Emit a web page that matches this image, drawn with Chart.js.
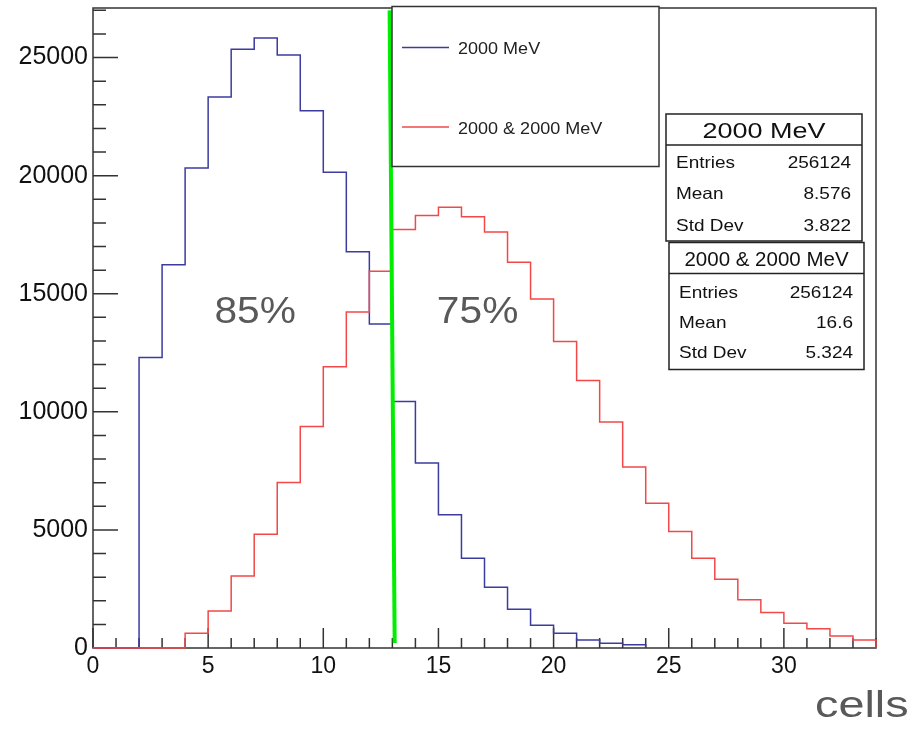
<!DOCTYPE html>
<html>
<head>
<meta charset="utf-8">
<script src="https://cdn.jsdelivr.net/npm/chart.js@4.4.1/dist/chart.umd.min.js"></script>
<style>
  html, body { margin: 0; padding: 0; background: #fff; }
  #wrap { width: 922px; height: 730px; }
</style>
</head>
<body>
<div id="wrap"><canvas id="histo" width="922" height="730"></canvas></div>
<script>
// series names
const seriesNames = ['2000 MeV', '2000 & 2000 MeV'];

// bin contents, bin width 1 starting at 0
const blueCounts = [0, 0, 12300, 16230, 20320, 23330, 25350, 25830, 25110, 22750,
    20150, 16780, 13720, 10440, 7830, 5640, 3800, 2570, 1640, 960,
    620, 340, 200, 140];
const redCounts = [0, 0, 0, 0, 620, 1570, 3050, 4820, 7010, 9380,
    11910, 14230, 15950, 17720, 18310, 18660, 18260, 17620, 16330, 14780,
    12980, 11330, 9570, 7660, 6130, 4930, 3800, 2910, 2040, 1500,
    1050, 820, 510, 340];

// green cut line (x in cells, y in counts)
const cutX = [12.88, 13.10];
const cutY = [27000, 210];

// stat boxes
const statNames = ['Entries', 'Mean', 'Std Dev'];
const blueStats = ['256124', '8.576', '3.822'];
const redStats = ['256124', '16.6', '5.324'];

// percentage labels: text, x, y
const pctText = ['85%', '75%'];
const pctX = [7.04, 16.70];
const pctY = [14330, 14330];

// axes
const xTicks = [0, 5, 10, 15, 20, 25, 30];
const yTicks = [0, 5000, 10000, 15000, 20000, 25000];
const xMax = 34;
const yMax = 27100;

const blueColor = '#3b3ba0';
const redColor = '#f24848';
const font = '"Liberation Sans", Arial, sans-serif';

// stepped points: left edge of each bin, closed back to zero at the end
function toSteps(counts) {
    const pts = counts.map((v, i) => ({ x: i, y: v }));
    pts.push({ x: counts.length, y: 0 });
    return pts;
}

// text with a horizontal stretch, y is the middle of the caps
function drawText(ctx, text, x, y, size, sx, align, color) {
    ctx.save();
    ctx.translate(x, y + size * 0.358);
    ctx.scale(sx, 1);
    ctx.font = size + 'px ' + font;
    ctx.textAlign = align;
    ctx.textBaseline = 'alphabetic';
    ctx.fillStyle = color;
    ctx.fillText(text, 0, 0);
    ctx.restore();
}

function statBox(ctx, box, title, values) {
    ctx.save();
    ctx.fillStyle = '#fff';
    ctx.fillRect(box.x, box.y, box.w, box.h);
    ctx.strokeStyle = '#222';
    ctx.lineWidth = 1.5;
    ctx.strokeRect(box.x, box.y, box.w, box.h);
    ctx.beginPath();
    ctx.moveTo(box.x, box.div);
    ctx.lineTo(box.x + box.w, box.div);
    ctx.stroke();
    ctx.restore();
    drawText(ctx, title, box.x + box.w / 2, box.titleY, box.titleSize, box.titleSx, 'center', '#111');
    statNames.forEach((name, i) => {
        drawText(ctx, name, box.x + 10, box.rows[i], 16.5, 1.15, 'left', '#111');
        drawText(ctx, values[i], box.x + box.w - 11, box.rows[i], 16.5, 1.15, 'right', '#111');
    });
}

// frame and inward ticks like ROOT
const framePlugin = {
    id: 'frame',
    beforeDatasetsDraw(chart) {
        const { ctx, chartArea: a, scales } = chart;
        ctx.save();
        ctx.strokeStyle = '#333';
        ctx.lineWidth = 1.5;
        ctx.strokeRect(a.left, a.top, a.right - a.left, a.bottom - a.top);
        ctx.beginPath();
        for (let v = 0; v <= yMax; v += 1000) {
            const py = scales.y.getPixelForValue(v);
            ctx.moveTo(a.left, py);
            ctx.lineTo(a.left + (v % 5000 === 0 ? 25 : 13), py);
        }
        for (let v = 0; v <= xMax; v += 1) {
            const px = scales.x.getPixelForValue(v);
            ctx.moveTo(px, a.bottom);
            ctx.lineTo(px, a.bottom - (v % 5 === 0 ? 20 : 10));
        }
        ctx.stroke();
        ctx.restore();
    },
    afterDraw(chart) {
        const { ctx, scales } = chart;

        // percentage labels
        pctText.forEach((t, i) => {
            drawText(ctx, t, scales.x.getPixelForValue(pctX[i]), scales.y.getPixelForValue(pctY[i]),
                37, 1.1, 'center', '#595959');
        });

        // legend box
        ctx.save();
        ctx.fillStyle = '#fff';
        ctx.fillRect(392, 6.5, 267, 160);
        ctx.strokeStyle = '#333';
        ctx.lineWidth = 1.5;
        ctx.strokeRect(392, 6.5, 267, 160);
        [blueColor, redColor].forEach((c, i) => {
            const ly = i === 0 ? 47.5 : 127;
            ctx.strokeStyle = c;
            ctx.lineWidth = 1.5;
            ctx.beginPath();
            ctx.moveTo(402, ly);
            ctx.lineTo(449, ly);
            ctx.stroke();
        });
        ctx.restore();
        drawText(ctx, seriesNames[0], 458, 48, 17, 1.06, 'left', '#222');
        drawText(ctx, seriesNames[1], 458, 127.5, 17, 1.06, 'left', '#222');

        // stat boxes
        statBox(ctx, { x: 666, y: 114, w: 196, h: 127, div: 145, titleY: 130, titleSize: 22.5, titleSx: 1.2,
            rows: [162.5, 193.5, 225] }, seriesNames[0], blueStats);
        statBox(ctx, { x: 669, y: 242.5, w: 195, h: 127, div: 273.5, titleY: 259, titleSize: 20.5, titleSx: 1.0,
            rows: [291.7, 322.5, 352.5] }, seriesNames[1], redStats);

        // axis title
        drawText(ctx, 'cells', 815, 704, 36, 1.3, 'left', '#595959');
    }
};

new Chart(document.getElementById('histo'), {
    type: 'line',
    data: {
        datasets: [
            {
                label: 'cut',
                data: cutX.map((x, i) => ({ x: x, y: cutY[i] })),
                borderColor: '#00ee00',
                borderWidth: 4,
                pointRadius: 0,
                clip: 4,
                order: 0,
            },
            {
                label: seriesNames[1],
                data: toSteps(redCounts),
                borderColor: redColor,
                borderWidth: 1.5,
                pointRadius: 0,
                stepped: true,
                clip: 4,
                order: 1,
            },
            {
                label: seriesNames[0],
                data: toSteps(blueCounts),
                borderColor: blueColor,
                borderWidth: 1.5,
                pointRadius: 0,
                stepped: true,
                clip: 4,
                order: 2,
            },
        ],
    },
    options: {
        responsive: false,
        animation: false,
        devicePixelRatio: 1,
        layout: { padding: { left: 0, top: 8, right: 46, bottom: 0 } },
        plugins: {
            legend: { display: false },
            tooltip: { enabled: false },
        },
        scales: {
            x: {
                type: 'linear',
                min: 0,
                max: xMax,
                grid: { display: false, drawTicks: false },
                border: { display: false },
                afterFit: (scale) => {
                    scale.height = 82;
                    scale.paddingLeft = 0;
                    scale.paddingRight = 0;
                },
                afterBuildTicks: (scale) => {
                    scale.ticks = xTicks.map((v) => ({ value: v }));
                },
                ticks: {
                    color: '#111',
                    font: { family: font, size: 23 },
                    padding: 5,
                    maxRotation: 0,
                    autoSkip: false,
                    callback: (v) => String(v),
                },
            },
            y: {
                type: 'linear',
                min: 0,
                max: yMax,
                grid: { display: false, drawTicks: false },
                border: { display: false },
                afterFit: (scale) => {
                    scale.width = 93;
                    scale.paddingTop = 0;
                    scale.paddingBottom = 0;
                },
                afterBuildTicks: (scale) => {
                    scale.ticks = yTicks.map((v) => ({ value: v }));
                },
                ticks: {
                    color: '#111',
                    font: { family: font, size: 25 },
                    padding: 5,
                    callback: (v) => String(v),
                },
            },
        },
    },
    plugins: [framePlugin],
});
</script>
</body>
</html>
